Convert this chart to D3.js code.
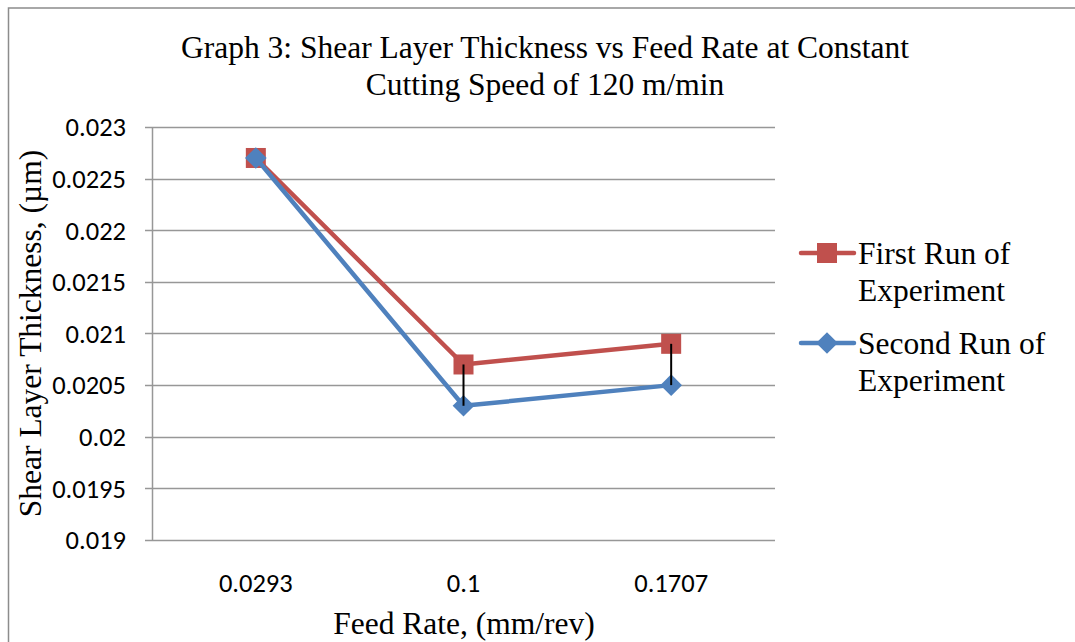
<!DOCTYPE html>
<html>
<head>
<meta charset="utf-8">
<script src="https://cdn.jsdelivr.net/npm/d3@7"></script>
<style>
  body { margin: 0; background: #fff; }
  svg { display: block; }
</style>
</head>
<body>
<div id="chart"></div>
<script>
// Data
const feedRates = ['0.0293', '0.1', '0.1707'];
const firstRun = [0.0227, 0.0207, 0.0209];
const secondRun = [0.0227, 0.0203, 0.0205];
// minus error bars on the first run (drawn down from the red markers)
const firstRunErrMinus = [0, 0.0004, 0.0004];
const yTicks = [0.019, 0.0195, 0.02, 0.0205, 0.021, 0.0215, 0.022, 0.0225, 0.023];
const seriesNames = [['First Run of', 'Experiment'], ['Second Run of', 'Experiment']];

const W = 1075, H = 642;
const plot = { left: 152, right: 775, top: 127, bottom: 540 };
const serif = '"Liberation Serif", "Times New Roman", serif';
const sans = '"Liberation Sans Narrow", Carlito, Calibri, sans-serif';
const red = '#C0504D', blue = '#4F81BD';
const serifSize = 31.5, sansSize = 26.5;

const svg = d3.select('#chart').append('svg')
  .attr('width', W)
  .attr('height', H);

// chart frame (runs off the right and bottom edges)
svg.append('rect')
  .attr('x', 8.5).attr('y', 8)
  .attr('width', W + 20).attr('height', H + 20)
  .attr('fill', '#fff')
  .attr('stroke', '#8c8c8c')
  .attr('stroke-width', 1.5);

const x = d3.scaleBand()
  .domain(feedRates)
  .range([plot.left, plot.right]);

const y = d3.scaleLinear()
  .domain([0.019, 0.023])
  .range([plot.bottom, plot.top]);

// gridlines
svg.append('g')
  .selectAll('line')
  .data(yTicks)
  .enter()
  .append('line')
  .attr('x1', plot.left - 7)
  .attr('x2', plot.right)
  .attr('y1', (d) => Math.round(y(d)) + 0.5)
  .attr('y2', (d) => Math.round(y(d)) + 0.5)
  .attr('stroke', '#979797')
  .attr('stroke-width', 1.5);

// y axis line
svg.append('line')
  .attr('x1', plot.left + 0.5).attr('x2', plot.left + 0.5)
  .attr('y1', plot.top).attr('y2', plot.bottom)
  .attr('stroke', '#979797')
  .attr('stroke-width', 1.5);

// y tick labels
svg.append('g')
  .selectAll('text')
  .data(yTicks)
  .enter()
  .append('text')
  .attr('x', 126)
  .attr('y', (d) => y(d))
  .attr('dy', '0.35em')
  .attr('text-anchor', 'end')
  .attr('font-family', sans)
  .attr('font-size', sansSize)
  .attr('fill', '#000')
  .text((d) => String(+d.toFixed(4)));

// x tick labels
svg.append('g')
  .selectAll('text')
  .data(feedRates)
  .enter()
  .append('text')
  .attr('x', (d) => x(d) + x.bandwidth() / 2)
  .attr('y', 583)
  .attr('dy', '0.35em')
  .attr('text-anchor', 'middle')
  .attr('font-family', sans)
  .attr('font-size', sansSize)
  .text((d) => d);

const cx = (i) => x(feedRates[i]) + x.bandwidth() / 2;

const line = d3.line()
  .x((d, i) => cx(i))
  .y((d) => y(d));

// first run line
svg.append('path')
  .datum(firstRun)
  .attr('d', line)
  .attr('fill', 'none')
  .attr('stroke', red)
  .attr('stroke-width', 4.5)
  .attr('stroke-linejoin', 'round');

svg.append('g')
  .selectAll('rect')
  .data(firstRun)
  .enter()
  .append('rect')
  .attr('x', (d, i) => cx(i) - 10)
  .attr('y', (d) => y(d) - 10)
  .attr('width', 20)
  .attr('height', 20)
  .attr('fill', red);

// second run line
svg.append('path')
  .datum(secondRun)
  .attr('d', line)
  .attr('fill', 'none')
  .attr('stroke', blue)
  .attr('stroke-width', 4.5)
  .attr('stroke-linejoin', 'round');

const diamond = d3.symbol().type(d3.symbolDiamond2).size(300);

svg.append('g')
  .selectAll('path')
  .data(secondRun)
  .enter()
  .append('path')
  .attr('d', diamond)
  .attr('transform', (d, i) => `translate(${cx(i)},${y(d)})`)
  .attr('fill', blue);

// error bars (minus only, no caps), drawn on top of the markers
const errBars = firstRun
  .map((v, i) => ({ i: i, v: v, err: firstRunErrMinus[i] }))
  .filter((d) => d.err > 0);

svg.append('g')
  .selectAll('line')
  .data(errBars)
  .enter()
  .append('line')
  .attr('x1', (d) => cx(d.i))
  .attr('x2', (d) => cx(d.i))
  .attr('y1', (d) => y(d.v))
  .attr('y2', (d) => y(d.v - d.err))
  .attr('stroke', '#000')
  .attr('stroke-width', 2);

// Title
const title = svg.append('text')
  .attr('text-anchor', 'middle')
  .attr('font-family', serif)
  .attr('font-size', serifSize)
  .attr('fill', '#000');
title.append('tspan').attr('x', 545).attr('y', 58)
  .text('Graph 3: Shear Layer Thickness vs Feed Rate at Constant');
title.append('tspan').attr('x', 545).attr('y', 95)
  .text('Cutting Speed of 120 m/min');

// axis titles
svg.append('text')
  .attr('transform', `translate(41,${(plot.top + plot.bottom) / 2}) rotate(-90)`)
  .attr('text-anchor', 'middle')
  .attr('font-family', serif)
  .attr('font-size', serifSize)
  .text('Shear Layer Thickness, (µm)');

svg.append('text')
  .attr('x', 464)
  .attr('y', 634)
  .attr('text-anchor', 'middle')
  .attr('font-family', serif)
  .attr('font-size', serifSize)
  .text('Feed Rate, (mm/rev)');

// Legend
const legendY = [253, 343];
const legend = svg.append('g')
  .selectAll('g')
  .data(seriesNames)
  .enter()
  .append('g')
  .attr('transform', (d, i) => `translate(0,${legendY[i]})`);

legend.append('line')
  .attr('x1', 801).attr('x2', 854)
  .attr('y1', 0).attr('y2', 0)
  .attr('stroke', (d, i) => (i === 0 ? red : blue))
  .attr('stroke-width', 4.5)
  .attr('stroke-linecap', 'round');

legend.filter((d, i) => i === 0)
  .append('rect')
  .attr('x', 817).attr('y', -10)
  .attr('width', 20).attr('height', 20)
  .attr('fill', red);

legend.filter((d, i) => i === 1)
  .append('path')
  .attr('d', diamond)
  .attr('transform', 'translate(827,0)')
  .attr('fill', blue);

legend.append('text')
  .attr('font-family', serif)
  .attr('font-size', serifSize)
  .each(function (d) {
    const t = d3.select(this);
    d.forEach((s, k) => {
      t.append('tspan')
        .attr('x', 858)
        .attr('y', 11 + k * 37)
        .text(s);
    });
  });
</script>
</body>
</html>
